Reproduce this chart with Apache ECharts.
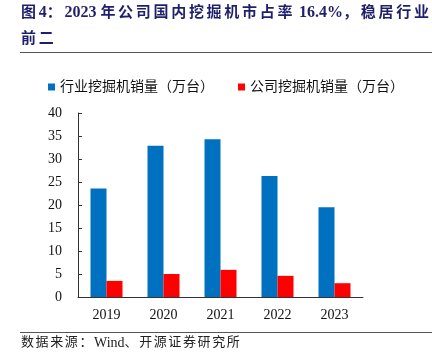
<!DOCTYPE html>
<html><head><meta charset="utf-8">
<script src="https://cdn.jsdelivr.net/npm/echarts@6/dist/echarts.min.js"></script>
<style>html,body{margin:0;padding:0;background:#fff}#c{width:432px;height:360px}</style>
</head><body><div id="c"></div>
<script>
const categories = ['2019','2020','2021','2022','2023'];
const industrySales = [23.6, 32.9, 34.3, 26.3, 19.5];
const companySales = [3.5, 5.0, 5.9, 4.6, 3.0];
const seriesNames = ['行业挖掘机销量（万台）','公司挖掘机销量（万台）'];
const yTicks = [0,5,10,15,20,25,30,35,40];
const titleLines = ['图4：2023 年公司国内挖掘机市占率 16.4%，稳居行业','前二'];
const sourceText = '数据来源：Wind、开源证券研究所';

const serif = '"Liberation Serif","Noto Sans CJK SC",serif';
function spaced(str){
  let out = '', run = '';
  for (const ch of str){
    if (/[\u3000-\u9fff\uff00-\uffef]/.test(ch)){
      if (run){ out += '{l|' + run + '}'; run=''; }
      out += '{c|' + ch + '}';
    } else run += ch;
  }
  if (run) out += '{l|' + run + '}';
  return out;
}
const chart = echarts.init(document.getElementById('c'), null, {renderer:'canvas'});
chart.setOption({
  animation:false,
  backgroundColor:'#fff',
  graphic:[
    {type:'text', left:21, top:5, style:{
      text: titleLines.map(spaced).join('\n'),
      rich:{
        c:{fill:'#1f1f6b', font:'bold 15px '+serif, padding:[0,2.7,0,0], lineHeight:26},
        l:{fill:'#1f1f6b', font:'bold 16px '+serif, lineHeight:26}
      }}},
    {type:'line', shape:{x1:20,y1:52.5,x2:432,y2:52.5}, style:{stroke:'#555',lineWidth:1}},
    {type:'line', shape:{x1:20,y1:332.5,x2:432,y2:332.5}, style:{stroke:'#555',lineWidth:1}},
    {type:'text', left:21, top:336, style:{
      text: spaced(sourceText),
      rich:{
        c:{fill:'#222', font:'13px '+serif, padding:[0,1.6,0,0]},
        l:{fill:'#222', font:'14px '+serif}
      }}}
  ],
  legend:{
    top:75, left:43, itemWidth:7, itemHeight:7, itemGap:24, icon:'rect',
    textStyle:{fontSize:14, color:'#111', fontFamily:serif},
    data:seriesNames
  },
  grid:{left:78, right:69, top:113, bottom:63},
  xAxis:{
    type:'category', data:categories,
    axisLine:{lineStyle:{color:'#333'}},
    axisTick:{inside:true, length:4, lineStyle:{color:'#333'}},
    axisLabel:{color:'#111', fontSize:14, fontFamily:serif, margin:11}
  },
  yAxis:{
    type:'value', min:0, max:40, interval:5,
    axisLine:{show:true, lineStyle:{color:'#333'}},
    axisTick:{show:true, inside:true, length:4, lineStyle:{color:'#333'}},
    splitLine:{show:false},
    axisLabel:{color:'#111', fontSize:14, fontFamily:serif, margin:16,
      formatter:v=>yTicks.includes(v)?String(v):''}
  },
  series:[
    {name:seriesNames[0], type:'bar', data:industrySales, barWidth:16, barGap:'0%',
      itemStyle:{color:'#0070C0'}},
    {name:seriesNames[1], type:'bar', data:companySales, barWidth:16, barGap:'0%',
      itemStyle:{color:'#FF0000'}}
  ]
});
</script></body></html>
